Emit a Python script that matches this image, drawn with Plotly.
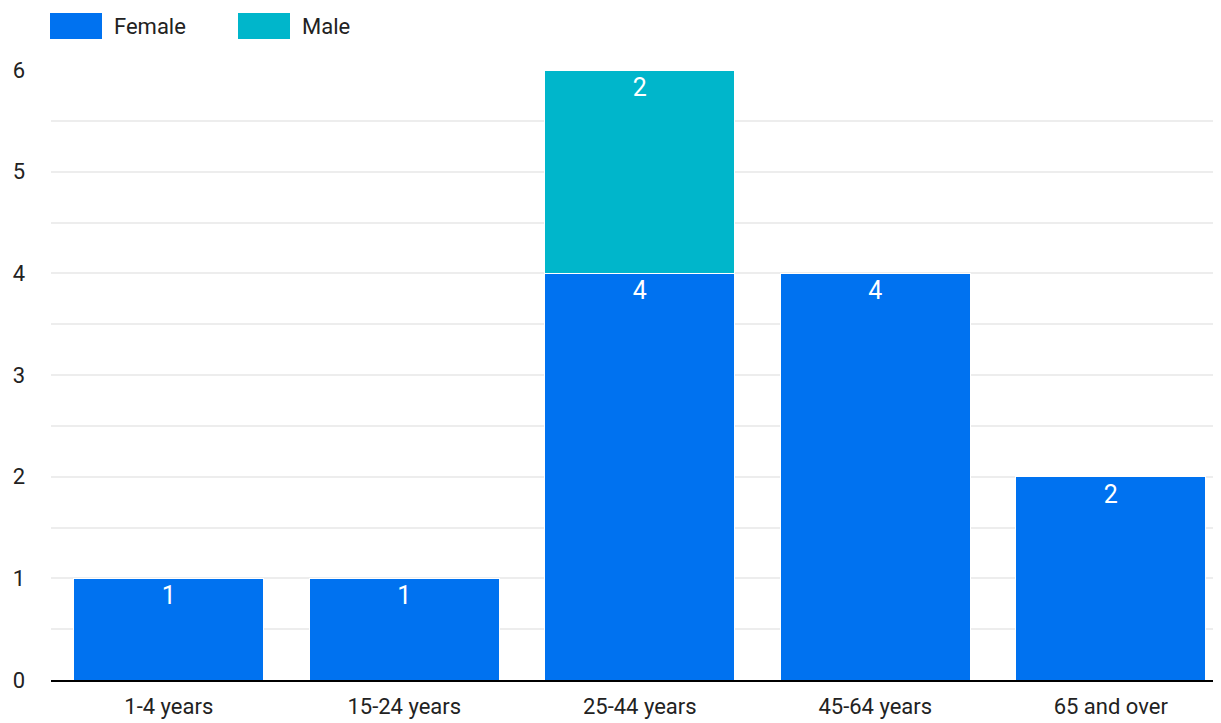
import plotly.graph_objects as go

# dati
age_groups = ["1-4 years", "15-24 years", "25-44 years", "45-64 years", "65 and over"]
female = [1, 1, 4, 4, 2]
male = [None, None, 2, None, None]

series_names = ["Female", "Male"]
series_colors = ["#0072F0", "#00B6CB"]

FONT = "Roboto"
FS = 22      # assi e legenda
FS_BAR = 25  # etichette dentro le barre

fig = go.Figure()

fig.add_trace(go.Bar(
    x=age_groups, y=female, name=series_names[0],
    marker=dict(color=series_colors[0], line=dict(color="white", width=1)),
    text=female, textposition="inside", insidetextanchor="end",
    textfont=dict(color="white", size=FS_BAR, family=FONT),
    showlegend=False,
))

fig.add_trace(go.Bar(
    x=age_groups, y=male, name=series_names[1],
    marker=dict(color=series_colors[1], line=dict(color="white", width=1)),
    text=male, textposition="inside", insidetextanchor="end",
    textfont=dict(color="white", size=FS_BAR, family=FONT),
    showlegend=False,
))

# legenda disegnata a mano (riquadri grandi come nell'originale)
# la pagina ha 8px di margine: l'area del grafico va da x=51 a 1221, y=70 a 680
W, H = 1170, 610
X0 = 51
legend_x = [50, 238]
for i, (name, col) in enumerate(zip(series_names, series_colors)):
    fig.add_shape(type="rect", xref="paper", yref="paper",
                  x0=(legend_x[i] - X0) / W, x1=(legend_x[i] + 52 - X0) / W,
                  y0=(680 - 39) / H, y1=(680 - 13) / H,
                  fillcolor=col, line_width=0)
    fig.add_annotation(xref="paper", yref="paper",
                       x=(legend_x[i] + 62 - X0) / W, y=(680 - 26) / H,
                       text=name, showarrow=False, xanchor="left", yanchor="middle",
                       font=dict(size=FS, color="#222222", family=FONT))

fig.update_layout(
    barmode="stack",
    bargap=0.193,
    width=1213, height=715,
    margin=dict(l=43, r=0, t=62, b=43),
    plot_bgcolor="white",
    paper_bgcolor="white",
    font=dict(family=FONT, size=FS, color="#222222"),
    xaxis=dict(range=[-0.5, 4.468], showline=True, linecolor="black", linewidth=2, ticks="",
               ticklabelstandoff=6, tickfont=dict(size=FS)),
    yaxis=dict(range=[0, 6], dtick=1, showgrid=True, gridcolor="#ededed", gridwidth=2,
               zeroline=False, ticks="", ticklabelstandoff=25,
               minor=dict(dtick=0.5, showgrid=True, gridcolor="#ededed", gridwidth=2),
               tickfont=dict(size=FS)),
)

fig.write_html("out.html")
